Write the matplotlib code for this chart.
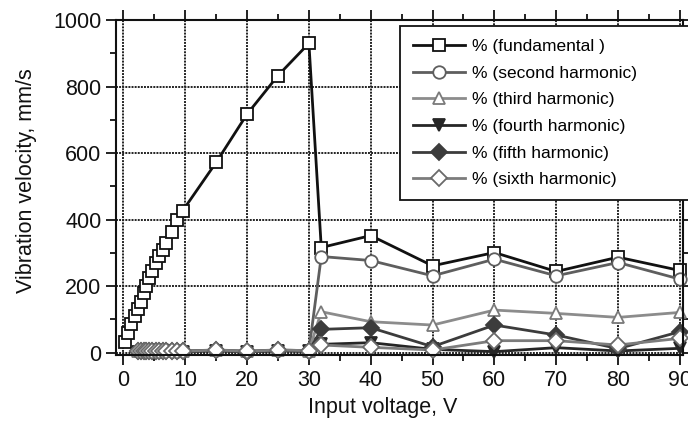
import matplotlib
matplotlib.use('Agg')
import matplotlib.pyplot as plt
from matplotlib.ticker import MultipleLocator

plt.rcParams['font.family'] = ['Liberation Sans', 'DejaVu Sans']

# tensões (V) - parte densa no início e depois pontos espaçados
x_low = [0.3, 0.7, 1.3, 1.8, 2.3, 2.8, 3.3, 3.7, 4.2, 4.7, 5.2, 5.7, 6.4, 6.9, 7.8, 8.6, 9.6]
x_high = [15, 20, 25, 30, 32, 40, 50, 60, 70, 80, 90]
x_fund = x_low + x_high
x_harm = x_low[4:] + x_high

# velocidade de vibração (mm/s)
fundamental = [33, 60, 85, 110, 130, 153, 178, 200, 224, 246, 269, 292, 309, 329, 364, 399, 427,
               572, 717, 833, 930, 316, 352, 261, 301, 244, 287, 247]
second = [6, 6, 7, 6, 7, 7, 6, 7, 6, 7, 6, 6, 5, 8, 5, 8, 6, 289, 277, 231, 281, 231, 271, 221]
third = [5, 5, 6, 5, 6, 6, 5, 6, 5, 6, 5, 5, 4, 7, 4, 7, 5, 123, 93, 83, 128, 118, 106, 121]
fourth = [3, 3, 4, 3, 4, 4, 3, 4, 3, 4, 3, 3, 3, 5, 3, 5, 4, 25, 30, 10, 3, 15, 5, 13]
fifth = [4, 4, 5, 4, 5, 5, 4, 5, 4, 5, 4, 4, 4, 7, 3, 7, 5, 70, 75, 18, 83, 53, 12, 63]
sixth = [5, 5, 6, 5, 6, 6, 5, 6, 5, 6, 5, 5, 4, 8, 4, 8, 6, 23, 16, 8, 36, 36, 23, 43]

labels = ['% (fundamental )', '% (second harmonic)', '% (third harmonic)',
          '% (fourth harmonic)', '% (fifth harmonic)', '% (sixth harmonic)']

fig = plt.figure(figsize=(6.88, 4.23), dpi=100)
ax = fig.add_axes([0.1686, 0.1608, 0.8241, 0.7919])

series = [
    (x_fund, fundamental, 's', '#111111', 'white', '#111111'),
    (x_harm, second, 'o', '#5e5e5e', 'white', '#5e5e5e'),
    (x_harm, third, '^', '#8c8c8c', 'white', '#7a7a7a'),
    (x_harm, fourth, 'v', '#262626', '#262626', '#262626'),
    (x_harm, fifth, 'D', '#3c3c3c', '#3c3c3c', '#3c3c3c'),
    (x_harm, sixth, 'D', '#7c7c7c', 'white', '#6a6a6a'),
]

for (xs, ys, mk, lc, fc, ec), lab in zip(series, labels):
    ms = 9 if mk in ('s', 'o', '^', 'v') else 8
    ax.plot(xs, ys, color=lc, lw=2.0, marker=mk, ms=ms, mfc=fc, mec=ec,
            mew=1.3, label=lab, clip_on=False)

ax.set_xlim(-1.2, 90.5)
ax.set_ylim(-7, 1000)
ax.xaxis.set_major_locator(MultipleLocator(10))
ax.xaxis.set_minor_locator(MultipleLocator(5))
ax.yaxis.set_major_locator(MultipleLocator(200))
ax.yaxis.set_minor_locator(MultipleLocator(100))
ax.tick_params(which='both', direction='out', top=True, right=True, width=1.3,
               labelsize=15.5, colors='#111111')
ax.tick_params(which='major', length=7)
ax.tick_params(which='minor', length=4)
ax.grid(True, which='major', color='#222222', linestyle=(0, (1, 0.6)), lw=1.4)
ax.set_axisbelow(True)
for sp in ax.spines.values():
    sp.set_linewidth(1.5)
    sp.set_color('#111111')

ax.set_xlabel('Input voltage, V', fontsize=15.5, color='#111111')
ax.set_ylabel('Vibration velocity, mm/s', fontsize=15.5, color='#111111')
ax.xaxis.set_label_coords(0.471, -0.125)
ax.yaxis.set_label_coords(-0.14, 0.522)

# legenda sai um pouco para fora do eixo, como no original
leg = ax.legend(loc='upper left', bbox_to_anchor=(0.501, 0.463, 0.54, 0.519),
                mode='expand', borderaxespad=0, fontsize=12.5,
                frameon=True, fancybox=False, edgecolor='#111111', framealpha=1,
                handlelength=3.0, labelspacing=0.66, borderpad=0.75, handletextpad=0.4)
leg.get_frame().set_linewidth(1.3)

fig.savefig('out.png', dpi=100)
